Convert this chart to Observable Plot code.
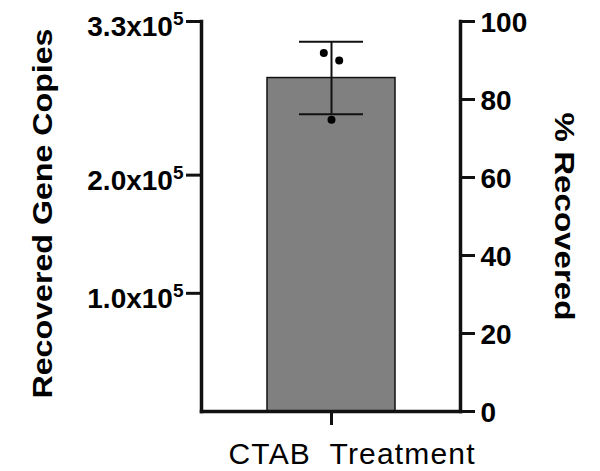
<!DOCTYPE html>
<html><head><meta charset="utf-8">
<script src="https://cdn.jsdelivr.net/npm/d3@7"></script>
<script src="https://cdn.jsdelivr.net/npm/@observablehq/plot@0.6"></script>
<style>
html,body{margin:0;padding:0;background:#fff}
svg text{white-space:pre}
</style>
</head><body><div id="chart"></div>
<script>
// ---- data ----
const category = "CTAB  Treatment";
const replicatePercent = [91.9, 90.0, 74.8];
const meanPercent = 85.5;
const sdPercent = 9.3;
const percentTicks = [0, 20, 40, 60, 80, 100];
const geneCopyTicks = [1.0e5, 2.0e5, 3.3e5];
const geneCopiesAt100 = 3.3e5;
const leftTitle = "Recovered Gene Copies";
const rightTitle = "% Recovered";

const toPct = v => v / geneCopiesAt100 * 100;
const fmtGene = p => {
  const [m, e] = (p * geneCopiesAt100 / 100).toExponential(1).split("e+");
  return m + "x10^" + e;
};
const jitter = [-7.7, 7.7, 0];
const ink = "#111";

const plot = Plot.plot({
  width: 600, height: 471,
  marginLeft: 201, marginRight: 140, marginTop: 21, marginBottom: 60,
  style: {fontFamily: "'Liberation Sans', Arial, sans-serif", background: "white", color: "black", overflow: "visible"},
  x: {domain: [category], paddingInner: 0, paddingOuter: 0.51},
  y: {domain: [0, 100]},
  marks: [
    Plot.barY([meanPercent], {x: () => category, y: d => d, fill: "#808080", stroke: ink, strokeWidth: 1.5}),
    Plot.ruleX([meanPercent], {x: () => category, y1: d => d - sdPercent, y2: d => d + sdPercent, stroke: ink, strokeWidth: 2}),
    Plot.tickY([meanPercent - sdPercent, meanPercent + sdPercent], {x: () => category, y: d => d, stroke: ink, strokeWidth: 2, insetLeft: 32, insetRight: 32}),
    ...replicatePercent.map((v, i) => Plot.dot([v], {x: () => category, y: d => d, r: 4, fill: "black", stroke: "none", dx: jitter[i]})),
    Plot.frame({anchor: "left", stroke: ink, strokeWidth: 3.5, strokeLinecap: "square"}),
    Plot.frame({anchor: "right", stroke: ink, strokeWidth: 3.5, strokeLinecap: "square"}),
    Plot.frame({anchor: "bottom", stroke: ink, strokeWidth: 3.5, strokeLinecap: "square"}),
    // left axis (gene copies)
    Plot.axisY(geneCopyTicks.map(toPct), {anchor: "left", tickSize: 15, strokeWidth: 3, stroke: ink, tickFormat: () => "", label: null}),
    Plot.axisY(geneCopyTicks.map(toPct), {anchor: "left", tickSize: 0, tickPadding: 18, fontSize: 28, fontWeight: "bold", dy: 6, tickFormat: fmtGene, label: null}),
    // right axis (% recovered)
    Plot.axisY(percentTicks, {anchor: "right", tickSize: 14, strokeWidth: 3, stroke: ink, tickFormat: () => "", label: null}),
    Plot.axisY(percentTicks, {anchor: "right", tickSize: 0, tickPadding: 20, fontSize: 28, fontWeight: "bold", dy: 2, label: null}),
    // x axis
    Plot.axisX({tickSize: 14, strokeWidth: 3, stroke: ink, tickFormat: () => "", label: null}),
    Plot.text([category], {x: d => d, frameAnchor: "bottom", lineAnchor: "top", dy: 31, dx: 20, fontSize: 30}),
    // titles
    Plot.text([leftTitle], {frameAnchor: "left", textAnchor: "middle", lineAnchor: "middle", rotate: -90, dx: -158, dy: -3, fontSize: 28, fontWeight: "bold"}),
    Plot.text([rightTitle], {frameAnchor: "right", textAnchor: "middle", lineAnchor: "middle", rotate: 90, dx: 103.5, fontSize: 28, fontWeight: "bold"})
  ]
});

// superscripts for exponent labels and title stretching
const svg = d3.select(plot);
svg.selectAll("text").each(function () {
  const t = this.textContent;
  if (t.includes("^")) {
    const [base, exp] = t.split("^");
    const sel = d3.select(this);
    sel.text(base);
    sel.append("tspan").attr("dy", "-11").attr("font-size", 19).text(exp);
  } else if (t === leftTitle) {
    d3.select(this).attr("textLength", 370).attr("lengthAdjust", "spacingAndGlyphs");
  } else if (t === rightTitle) {
    d3.select(this).attr("textLength", 208).attr("lengthAdjust", "spacingAndGlyphs");
  } else if (t === category) {
    d3.select(this).attr("textLength", 246).attr("lengthAdjust", "spacing");
  }
});
document.getElementById("chart").append(plot);
</script>
</body></html>
